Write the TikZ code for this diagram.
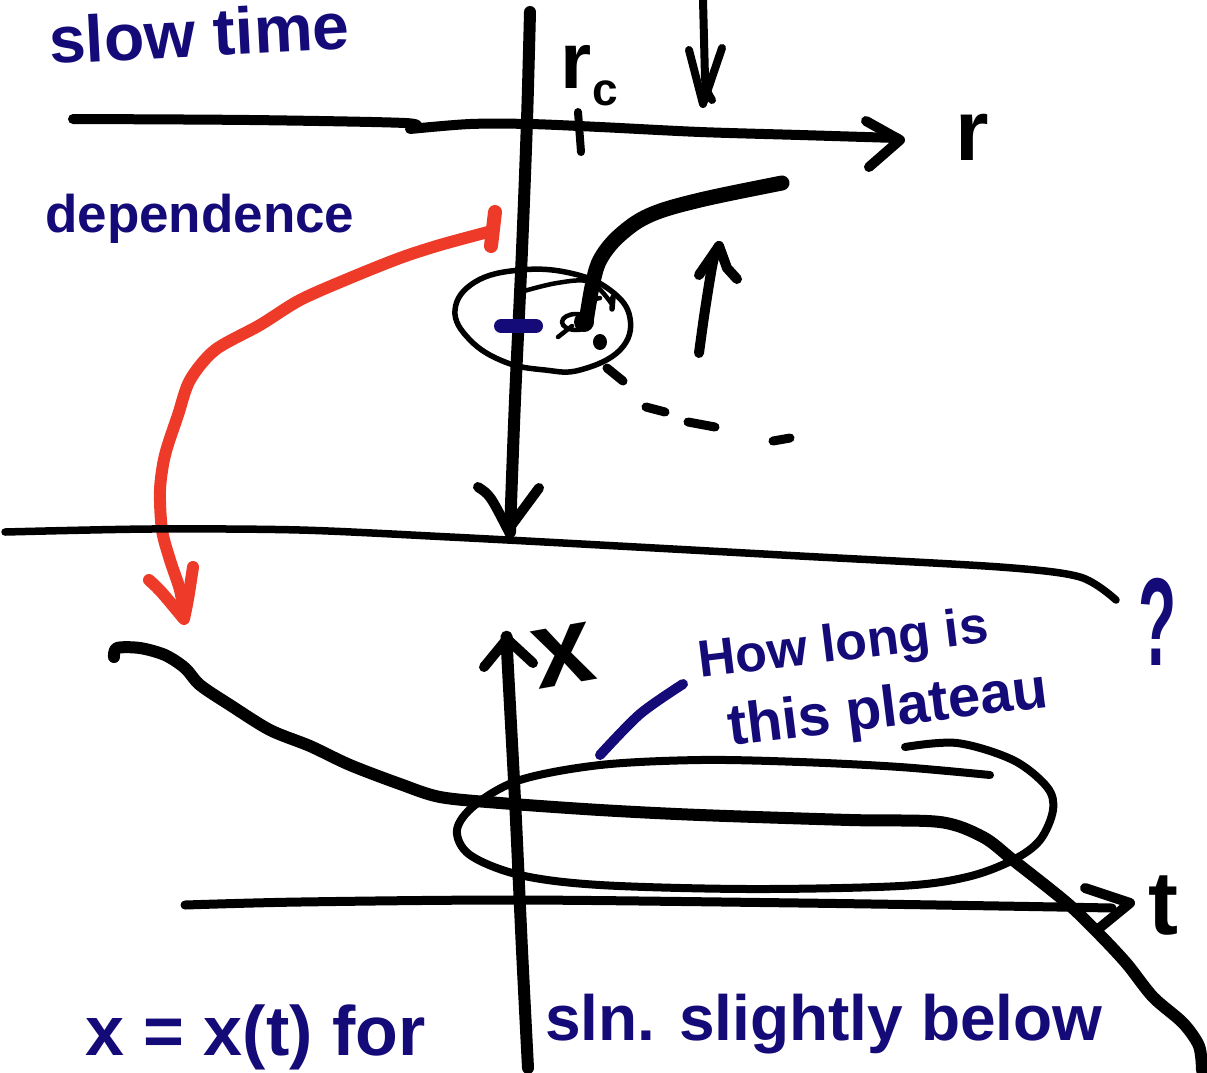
\documentclass[tikz,border=0pt]{standalone}
\usepackage{fontspec}
\setmainfont{Liberation Sans}
\definecolor{ink}{RGB}{20,10,120}
\definecolor{redink}{RGB}{238,58,40}
\begin{document}
\begin{tikzpicture}[x=1pt,y=-1pt,line cap=round,line join=round,
  pen/.style={draw=black,line width=10pt},
  fatpen/.style={draw=black,line width=12pt},
  thinpen/.style={draw=black,line width=5.5pt},
  redpen/.style={draw=redink,line width=12pt},
  inkpen/.style={draw=ink,line width=10pt},
  navytext/.style={text=ink,font=\bfseries,inner sep=0pt,anchor=base west},
  blacktext/.style={text=black,font=\bfseries,inner sep=0pt,anchor=base west}]
\useasboundingbox[fill=white] (0,0) rectangle (1207,1072);

% ---------- upper sketch ----------
% r axis
\draw[pen] plot[smooth,tension=0.5] coordinates {(73,119) (250,120) (405,123) (412,128)};
\draw[pen] plot[smooth,tension=0.5] coordinates {(410,129) (470,124) (530,124) (600,127) (700,132) (800,135) (897,138)};
\draw[pen] (866,121) -- (900,140) -- (869,167);
% vertical axis
\draw[pen,line width=12pt] plot[smooth,tension=0.5] coordinates {(530,12) (527,120) (522,250) (515,400) (510,532)};
\draw[pen] (478,487) .. controls (490,495) .. (508,530) -- (539,488);
% r_c tick
\draw[pen,line width=8pt] (578,112) -- (581,152);
% down arrow
\draw[pen,line width=8pt] (703,0) -- (705,78) .. controls (706,90) .. (712,100);
\draw[pen,line width=8pt] (689,50) -- (703,104) -- (722,48);
% thick curve
\draw[fatpen,line width=15pt] plot[smooth,tension=0.6] coordinates {(782,183) (700,200) (650,215) (620,235) (601,258) (593,282) (586,322)};
% up arrow
\draw[pen] plot[smooth,tension=0.5] coordinates {(699,353) (705,310) (713,262) (719,246)};
\draw[pen] (699,275) -- (719,246) -- (727,268) -- (737,279);
% ellipse
\draw[thinpen] plot[smooth cycle,tension=0.7] coordinates {(455,310) (475,282) (520,270) (570,273) (610,290) (630,318) (620,350) (580,370) (545,370) (505,362) (470,340)};
\draw[thinpen,line width=4.5pt] plot[smooth,tension=0.6] coordinates {(517,293) (557,283) (590,282) (611,303)};
\draw[thinpen] (613,297) -- (612,309);
% scribble at curve end
\draw[thinpen,line width=4.5pt] (576,322) ellipse [x radius=14, y radius=8];
\draw[thinpen,line width=4.5pt] (558,337) -- (572,326);
\fill[black] (584,322) circle [radius=10];
\fill[black] (600,342) ellipse [x radius=7, y radius=8];
\draw[thinpen,line width=4.5pt] (590,300) -- (600,298);
% dashes
\draw[pen,line width=9pt] (607,368) -- (623,381);
\draw[pen,line width=9pt] (646,407) -- (665,412);
\draw[pen,line width=9pt] (688,422) -- (715,427);
\draw[pen,line width=9pt] (773,441) -- (790,438);
% blue dash
\draw[draw=ink,line width=14pt] (501,326) -- (536,326);
% red arrow
\draw[redpen,line width=14pt] (495,212) -- (491,246);
\draw[redpen] plot[smooth,tension=0.5] coordinates {(488,232) (440,245) (400,258) (350,278) (300,300) (260,325) (215,350) (190,380) (178,415) (165,455) (160,490) (162,530) (170,560) (180,590) (184,615)};
\draw[redpen] (149,580) .. controls (160,590) .. (184,619) .. controls (188,600) .. (193,567);

% ---------- divider ----------
\draw[pen,line width=7.5pt] plot[smooth,tension=0.5] coordinates {(5,532) (150,529) (300,530) (450,537) (600,545) (800,556) (1000,567) (1080,577) (1116,600)};

% ---------- lower sketch ----------
% vertical x axis
\draw[pen,line width=12pt] plot[smooth,tension=0.5] coordinates {(528,1068) (522,950) (515,800) (507,650) (507,640)};
\draw[pen] (484,667) -- (507,639) -- (533,663);
% t axis
\draw[pen,line width=9pt] plot[smooth,tension=0.5] coordinates {(185,905) (300,902) (520,900) (800,903) (1000,906) (1112,908)};
\draw[pen] (1085,888) -- (1130,903) -- (1097,930);
% x(t) curve
\draw[fatpen] plot[smooth,tension=0.5] coordinates {(114,657) (117,648) (140,648) (165,655) (185,668) (200,685) (230,705) (270,730) (310,746) (350,765) (400,784) (440,797) (500,803) (600,810) (700,815) (850,820) (940,822) (983,837) (1013,860) (1067,903) (1100,935) (1127,964) (1153,997) (1183,1023) (1199,1046) (1202,1070)};
% plateau loop
\draw[pen,line width=8pt] plot[smooth,tension=0.55] coordinates {(990,775) (900,767) (800,762) (700,760) (600,765) (520,780) (475,805) (457,830) (470,855) (520,875) (600,885) (750,889) (900,886) (967,877) (1013,860) (1040,840) (1053,810) (1047,787) (1013,760) (957,743) (905,747)};
% navy pointer
\draw[inkpen] plot[smooth,tension=0.5] coordinates {(600,755) (640,714) (683,684)};

% ---------- texts ----------
\node[navytext,rotate=3] (slow) at (50,64) {\fontsize{66}{72}\selectfont slow time};
\node[navytext] (dep) at (45,232) {\fontsize{53}{60}\selectfont dependence};
\node[navytext,rotate=7] (howlong) at (700,678) {\fontsize{52}{56}\selectfont How long is};
\node[navytext,rotate=7] (plateau) at (730,746) {\fontsize{58}{62}\selectfont this plateau};
\node[navytext] (qmark) at (1138,665) {\scalebox{0.5}[1]{\fontsize{125}{125}\selectfont ?}};
\node[navytext] (xeq) at (85,1055) {\fontsize{70}{76}\selectfont x = x(t) for};
\node[navytext] (sln) at (545,1040) {\fontsize{64}{70}\selectfont sln. slightly below};
\node[blacktext] (rc) at (560,88) {\fontsize{80}{80}\selectfont r};
\node[blacktext] (rcsub) at (592,105) {\fontsize{46}{46}\selectfont c};
\node[blacktext] (rlab) at (955,160) {\fontsize{86}{90}\selectfont r};
\node[blacktext] (tlab) at (1148,934) {\fontsize{90}{90}\selectfont t};
\node[blacktext,rotate=10] (xlab) at (538,690) {\fontsize{110}{110}\selectfont x};
\end{tikzpicture}
\end{document}
